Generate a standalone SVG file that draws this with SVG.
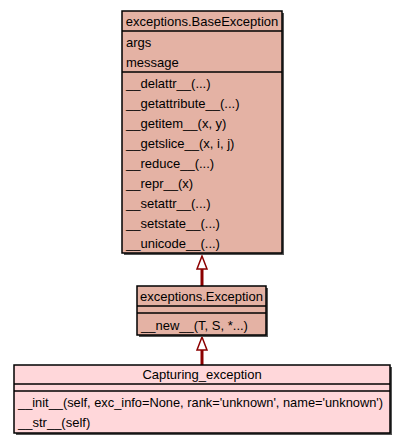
<svg xmlns="http://www.w3.org/2000/svg" width="405" height="445" viewBox="0 0 405 445">
<defs>
<style>
text{font-family:"Liberation Sans",Arial,sans-serif;font-size:13px;fill:#000}
.c{text-anchor:middle}
.box{stroke:#000;stroke-width:1.5}
.base{fill:#e4b2a4}
.cap{fill:#ffd7da}
.sh{fill:#555;stroke:none}
.sep{stroke:#000;stroke-width:1.5}
.edge{stroke:#8b0000;stroke-width:3;fill:none}
.head{stroke:#8b0000;stroke-width:1.5;fill:#fff}
</style>
</defs>
<rect width="405" height="445" fill="#fff"/>
<g id="connectors">
<line class="edge" x1="202" y1="269" x2="202" y2="286"/>
<polygon class="head" points="202,256 197,269 207,269"/>
<line class="edge" x1="202" y1="350" x2="202" y2="365"/>
<polygon class="head" points="202,337 197,350 207,350"/>
</g>
<g id="BaseException">
<rect class="sh" x="124" y="13" width="160" height="242"/>
<rect class="box base" x="122" y="11" width="160" height="242"/>
<line class="sep" x1="122" y1="31" x2="282" y2="31"/>
<line class="sep" x1="122" y1="72" x2="282" y2="72"/>
<text class="c" x="202" y="26">exceptions.BaseException</text>
<text x="126" y="47">args</text>
<text x="126" y="67">message</text>
<text x="126" y="88">__delattr__(...)</text>
<text x="126" y="108">__getattribute__(...)</text>
<text x="126" y="128">__getitem__(x, y)</text>
<text x="126" y="148">__getslice__(x, i, j)</text>
<text x="126" y="168">__reduce__(...)</text>
<text x="126" y="188">__repr__(x)</text>
<text x="126" y="208">__setattr__(...)</text>
<text x="126" y="228">__setstate__(...)</text>
<text x="126" y="248">__unicode__(...)</text>
</g>
<g id="Exception">
<rect class="sh" x="139" y="288" width="129" height="49"/>
<rect class="box base" x="137" y="286" width="129" height="49"/>
<line class="sep" x1="137" y1="306" x2="266" y2="306"/>
<line class="sep" x1="137" y1="313" x2="266" y2="313"/>
<text class="c" x="201.5" y="301">exceptions.Exception</text>
<text x="141" y="330">__new__(T, S, *...)</text>
</g>
<g id="Capturing_exception">
<rect class="sh" x="16" y="367" width="376" height="68"/>
<rect class="box cap" x="14" y="365" width="376" height="68"/>
<line class="sep" x1="14" y1="384" x2="390" y2="384"/>
<line class="sep" x1="14" y1="391" x2="390" y2="391"/>
<text class="c" x="202" y="379">Capturing_exception</text>
<text x="18" y="407" textLength="365" lengthAdjust="spacingAndGlyphs">__init__(self, exc_info=None, rank='unknown', name='unknown')</text>
<text x="18" y="427">__str__(self)</text>
</g>
</svg>
